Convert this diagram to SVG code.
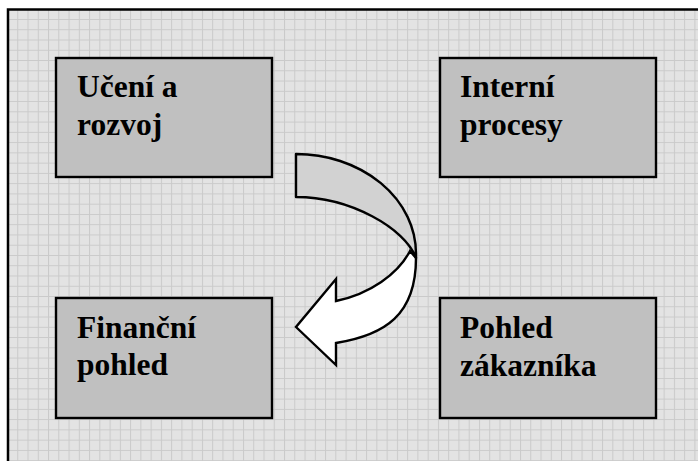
<svg xmlns="http://www.w3.org/2000/svg" width="698" height="461" viewBox="0 0 698 461">
  <defs>
    <pattern id="grid" patternUnits="userSpaceOnUse" x="7" y="8.75" width="10.26" height="10.26">
      <rect width="10.26" height="10.26" fill="#e3e3e3"/>
      <path d="M0,0.5 H10.26 M0.5,0 V10.26" stroke="#cacaca" stroke-width="1" fill="none"/>
    </pattern>
    <style>
      .box { fill: #c0c0c0; stroke: #000; stroke-width: 2.4; }
      .back { fill: #d2d2d2; stroke: #000; stroke-width: 2.4; stroke-linejoin: round; }
      .front { fill: #ffffff; stroke: #000; stroke-width: 2.4; stroke-linejoin: miter; }
    </style>
  </defs>
  <rect width="698" height="461" fill="#ffffff"/>
  <rect id="frame" x="8" y="9.5" width="720" height="480" fill="url(#grid)" stroke="#000" stroke-width="2.5"/>

  <g font-family="'Liberation Serif', 'DejaVu Serif', serif" font-weight="bold" font-size="31.5" fill="#000">
    <g id="n-uceni">
      <rect class="box" x="56" y="58" width="216" height="119"/>
      <text x="77" y="97">Učení a</text>
      <text x="77" y="134.5">rozvoj</text>
    </g>
    <g id="n-interni">
      <rect class="box" x="440" y="58" width="216" height="119"/>
      <text x="460" y="97">Interní</text>
      <text x="460" y="134.5">procesy</text>
    </g>
    <g id="n-financni">
      <rect class="box" x="56" y="298" width="216" height="120"/>
      <text x="77" y="338">Finanční</text>
      <text x="77" y="375">pohled</text>
    </g>
    <g id="n-zakaznik">
      <rect class="box" x="440" y="298" width="216" height="120"/>
      <text x="460" y="337.5">Pohled</text>
      <text x="460" y="375.5">zákazníka</text>
    </g>
  </g>

  <g id="connectors">
    <path class="front" d="M410,251 L416,258 C416,315 385,335 336,343 L336,365 L296,327 L336,279 L336,301 C370,294 398,274 410,251 Z"/>
    <path class="back" d="M296,154 A120,99.5 0 0 1 416,253.5 L416,258 C405,228 350,197 296,197 Z"/>
  </g>
</svg>
